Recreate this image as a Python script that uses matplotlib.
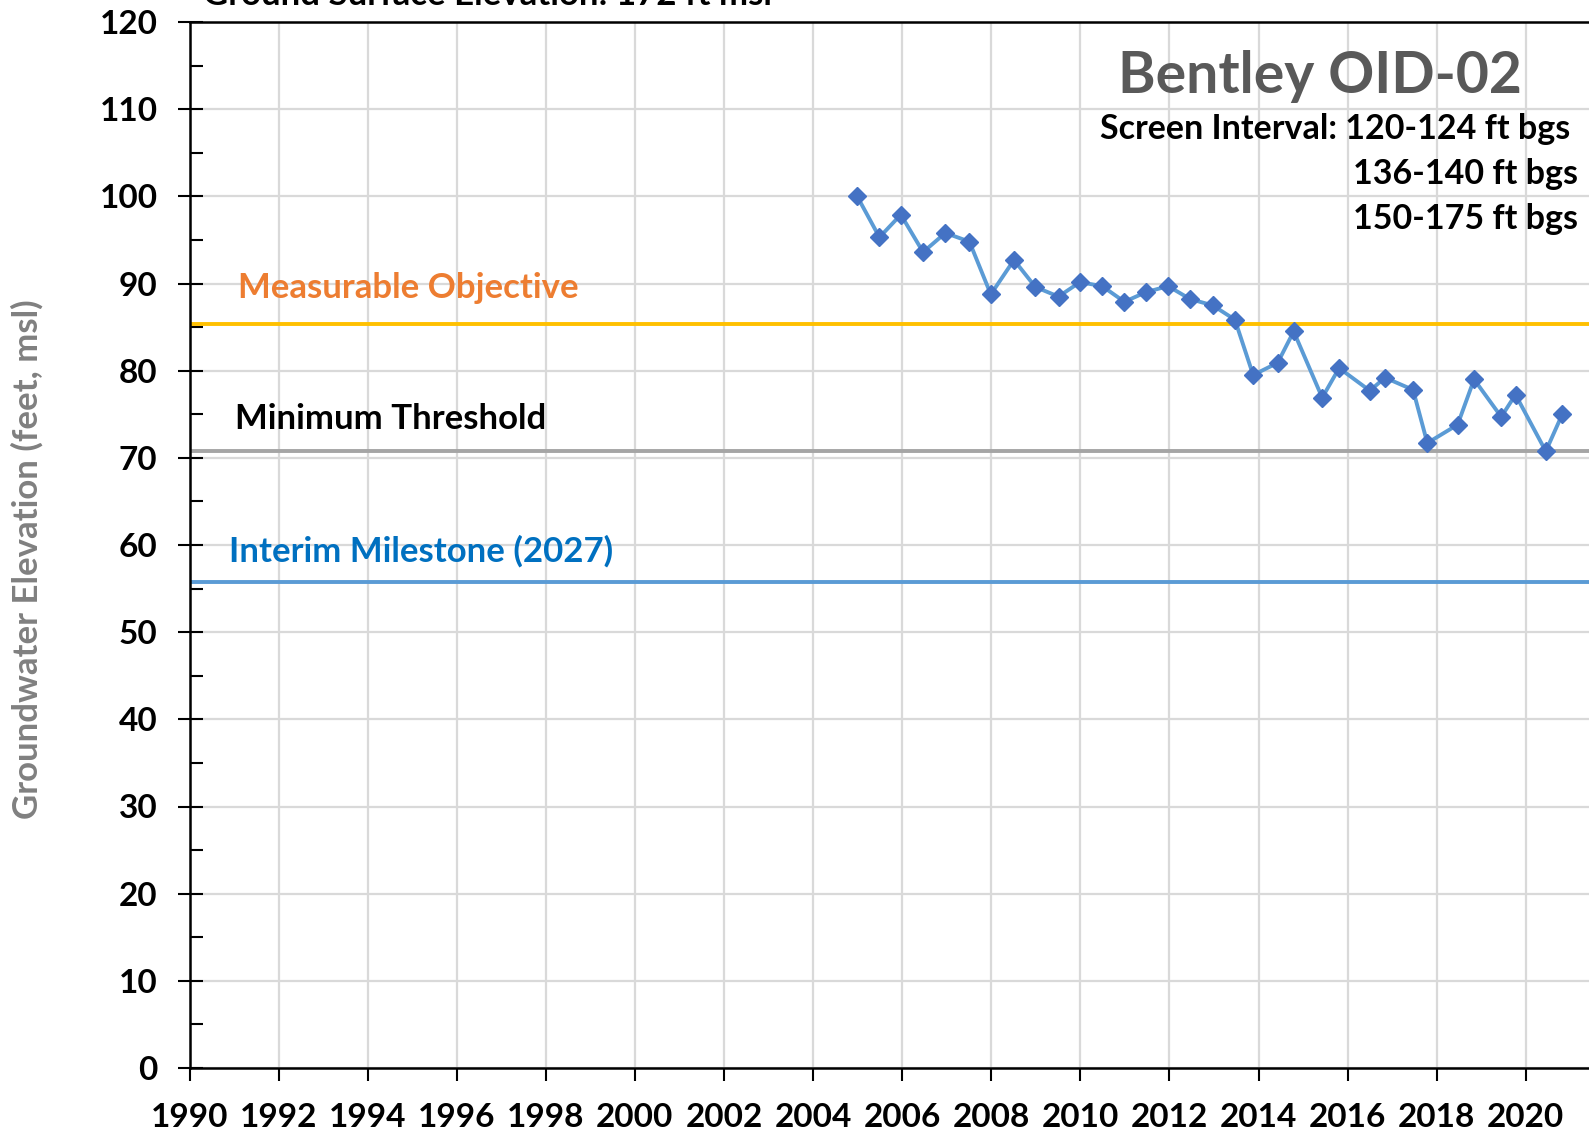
import matplotlib
matplotlib.use("Agg")
import matplotlib.pyplot as plt
from matplotlib.ticker import MultipleLocator

plt.rcParams['font.family'] = ['Lato', 'DejaVu Sans']
plt.rcParams['font.weight'] = 'bold'

years = [2004.99, 2005.49, 2005.97, 2006.47, 2006.97, 2007.51, 2007.99, 2008.51,
         2008.99, 2009.51, 2009.99, 2010.49, 2010.99, 2011.47, 2011.97, 2012.47,
         2012.97, 2013.47, 2013.88, 2014.43, 2014.79, 2015.43, 2015.81, 2016.50,
         2016.84, 2017.47, 2017.79, 2018.47, 2018.84, 2019.45, 2019.77, 2020.45,
         2020.82]
elev = [100.0, 95.3, 97.9, 93.6, 95.8, 94.8, 88.75, 92.7,
        89.6, 88.5, 90.15, 89.7, 87.9, 89.0, 89.7, 88.2,
        87.5, 85.85, 79.5, 80.9, 84.5, 76.9, 80.3, 77.7,
        79.2, 77.8, 71.7, 73.8, 79.0, 74.7, 77.25, 70.75,
        75.0]

measurable_objective = 85.4
minimum_threshold = 70.8
interim_milestone = 55.8

x_ticks = list(range(1990, 2021, 2))
y_ticks = list(range(0, 121, 10))

fig = plt.figure(figsize=(15.89, 11.36), dpi=100)
ax = fig.add_axes([189.5/1589, 68/1136, (1589-189.5)/1589, (1068-22)/1136])

ax.set_xlim(1990, 2021.42)
ax.set_ylim(0, 120)
ax.set_xticks(x_ticks)
ax.set_yticks(y_ticks)
ax.yaxis.set_minor_locator(MultipleLocator(5))
ax.grid(True, which='major', color='#D9D9D9', linewidth=1.6, zorder=0)
ax.set_axisbelow(True)

ax.spines['right'].set_visible(False)
for s in ['left', 'bottom', 'top']:
    ax.spines[s].set_color('black')
    ax.spines[s].set_linewidth(1.8)

ax.tick_params(axis='x', which='major', direction='out', length=9, width=1.5,
               labelsize=24, pad=16)
ax.tick_params(axis='y', which='major', direction='inout', length=18, width=1.5,
               labelsize=24, pad=14)
ax.tick_params(axis='y', which='minor', direction='in', length=9, width=1.5)
for lab in ax.get_xticklabels() + ax.get_yticklabels():
    lab.set_fontweight('bold')

ax.axhline(measurable_objective, color='#FFC000', linewidth=2.8, zorder=2)
ax.axhline(minimum_threshold, color='#A5A5A5', linewidth=2.8, zorder=2)
ax.axhline(interim_milestone, color='#5B9BD5', linewidth=2.8, zorder=2)

ax.plot(years, elev, color='#5B9BD5', linewidth=2.8, marker='D', markersize=9.5,
        markerfacecolor='#4472C4', markeredgecolor='#4472C4', zorder=3)

ax.text(1991.09, 89.45, 'Measurable Objective', color='#ED7D31', fontsize=25,
        fontweight='bold', ha='left', va='center')
ax.text(1991.02, 74.5, 'Minimum Threshold', color='black', fontsize=25,
        fontweight='bold', ha='left', va='center')
ax.text(1990.89, 59.25, 'Interim Milestone (2027)', color='#0070C0', fontsize=25,
        fontweight='bold', ha='left', va='center')

ax.text(2015.37, 113.8, 'Bentley OID-02', color='#595959', fontsize=41,
        fontweight='bold', ha='center', va='center')
ax.text(2021.0, 107.7, 'Screen Interval: 120-124 ft bgs', color='black', fontsize=24.5,
        fontweight='bold', ha='right', va='center')
ax.text(2021.18, 102.6, '136-140 ft bgs', color='black', fontsize=24.5,
        fontweight='bold', ha='right', va='center')
ax.text(2021.18, 97.35, '150-175 ft bgs', color='black', fontsize=24.5,
        fontweight='bold', ha='right', va='center')

ax.set_ylabel('Groundwater Elevation (feet, msl)', color='#808080', fontsize=25,
              fontweight='bold', labelpad=0)
ax.yaxis.set_label_coords(-146/1399.5, 0.486)

fig.text(203/1589, 1 - 5/1136, 'Ground Surface Elevation: 172 ft msl', color='black',
         fontsize=25, fontweight='bold', ha='left', va='baseline')

fig.savefig('out.png', dpi=100)
